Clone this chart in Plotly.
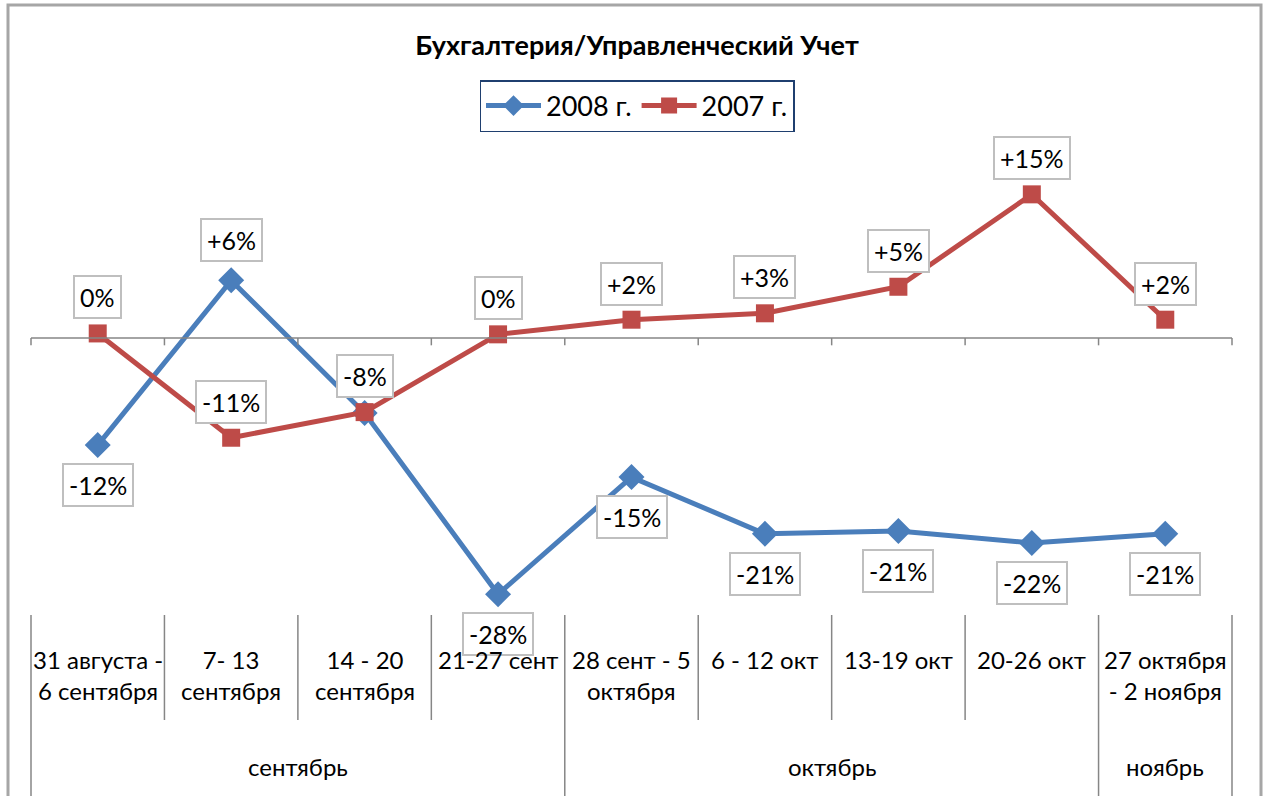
import plotly.graph_objects as go

categories = ["31 августа -<br>6 сентября", "7- 13<br>сентября", "14 - 20<br>сентября",
              "21-27 сент", "28 сент - 5<br>октября", "6 - 12 окт", "13-19 окт",
              "20-26 окт", "27 октября<br>- 2 ноября"]
months = ["сентябрь", "октябрь", "ноябрь"]
month_spans = [(0, 4), (4, 8), (8, 9)]

series_2008 = [-11.7, 6.3, -8.2, -28.0, -15.2, -21.4, -21.1, -22.4, -21.4]
labels_2008 = ["-12%", "+6%", "", "-28%", "-15%", "-21%", "-21%", "-22%", "-21%"]
series_2007 = [0.5, -10.9, -8.1, 0.4, 2.0, 2.7, 5.6, 15.7, 2.0]
labels_2007 = ["0%", "-11%", "-8%", "0%", "+2%", "+3%", "+5%", "+15%", "+2%"]

FONT = "Lato, 'Noto Sans', sans-serif"
BLUE = "#4A7EBB"
RED = "#BE4B48"

n = len(categories)
xs = list(range(n))

fig = go.Figure()
fig.add_trace(go.Scatter(x=xs, y=series_2008, name="2008 г.", mode="lines+markers",
                         line=dict(color=BLUE, width=5),
                         marker=dict(symbol="diamond", size=20, color=BLUE)))
fig.add_trace(go.Scatter(x=xs, y=series_2007, name="2007 г.", mode="lines+markers",
                         line=dict(color=RED, width=5),
                         marker=dict(symbol="square", size=18, color=RED)))

annotations = []
label_style = dict(showarrow=False, font=dict(family=FONT, size=25, color="black"),
                   bgcolor="white", bordercolor="#BFBFBF", borderwidth=2, borderpad=5,
                   xref="x", yref="y")
for i, (v, t) in enumerate(zip(series_2008, labels_2008)):
    if not t:
        continue
    shift = 40 if v > 0 else -40
    annotations.append(dict(x=i, y=v, text=t, yshift=shift, **label_style))
for i, (v, t) in enumerate(zip(series_2007, labels_2007)):
    annotations.append(dict(x=i, y=v, text=t, yshift=36, **label_style))

PLOT_TOP, PLOT_BOT = 140, 615
H = PLOT_BOT - PLOT_TOP
def py(px):
    return (PLOT_BOT - px) / H

for i, c in enumerate(categories):
    annotations.append(dict(x=(i + 0.5) / n, y=py(643), xref="paper", yref="paper",
                            text=c, showarrow=False, yanchor="top", xanchor="center",
                            font=dict(family=FONT, size=24, color="black")))
for m, (a, b) in zip(months, month_spans):
    annotations.append(dict(x=(a + b) / 2 / n, y=py(766), xref="paper", yref="paper",
                            text=m, showarrow=False, yanchor="middle", xanchor="center",
                            font=dict(family=FONT, size=24, color="black")))

shapes = []
GRAY = "#868686"
shapes.append(dict(type="line", xref="paper", yref="y", x0=0, x1=1, y0=0, y1=0,
                   line=dict(color=GRAY, width=1.5)))
for i in range(n + 1):
    shapes.append(dict(type="line", xref="paper", yref="y", x0=i / n, x1=i / n,
                       y0=0, y1=-0.8, line=dict(color=GRAY, width=1.5)))
month_bounds = {0, 4, 8, 9}
for i in range(n + 1):
    y1 = py(800) if i in month_bounds else py(720)
    shapes.append(dict(type="line", xref="paper", yref="paper", x0=i / n, x1=i / n,
                       y0=0, y1=y1, line=dict(color=GRAY, width=1.5)))
shapes.append(dict(type="rect", xref="paper", yref="paper",
                   x0=(8 - 31) / 1201, x1=(1261 - 31) / 1201, y0=py(810), y1=py(5),
                   line=dict(color="#A6A6A6", width=3)))

fig.update_layout(
    width=1272, height=796,
    margin=dict(l=31, r=40, t=PLOT_TOP, b=796 - PLOT_BOT),
    paper_bgcolor="white", plot_bgcolor="white",
    title=dict(text="<b>Бухгалтерия/Управленческий Учет</b>", x=637 / 1272, xanchor="center",
               y=1 - 46 / 796, yanchor="middle",
               font=dict(family=FONT, size=27, color="black")),
    xaxis=dict(range=[-0.5, n - 0.5], visible=False),
    yaxis=dict(range=[(338 - PLOT_BOT) / 9.15, (338 - PLOT_TOP) / 9.15], visible=False),
    showlegend=True,
    legend=dict(orientation="h", x=(637 - 31) / 1201, xanchor="center", y=py(80), yanchor="top",
                bordercolor="#1F3F6F", borderwidth=1.5, bgcolor="white",
                font=dict(family=FONT, size=27, color="black"),
                itemwidth=55, tracegroupgap=0),
    annotations=annotations,
    shapes=shapes,
    hovermode=False,
)

fig.write_html("out.html", config={"displayModeBar": False},
               post_script="document.body.style.margin='0';")
